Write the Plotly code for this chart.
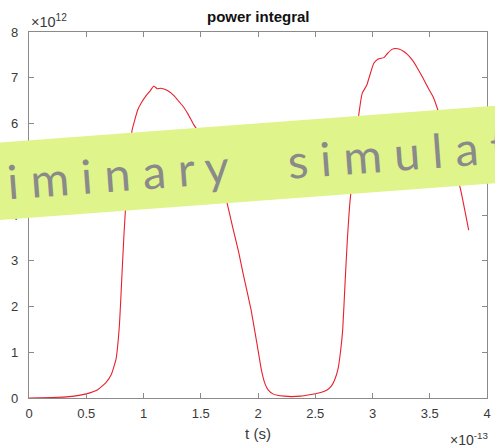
import plotly.graph_objects as go

# time in units of 1e-13 s, power integral in units of 1e12
t = [0, 0.2, 0.35, 0.5, 0.6, 0.67, 0.72, 0.76, 0.79, 0.81, 0.83, 0.86, 0.90, 0.95, 0.98,
     1.02, 1.06, 1.09, 1.12, 1.15, 1.21, 1.27, 1.31, 1.35, 1.39, 1.44, 1.50, 1.58, 1.66,
     1.73, 1.78, 1.83, 1.87, 1.94, 1.99, 2.03, 2.06, 2.09, 2.13, 2.17, 2.23, 2.29, 2.37,
     2.45, 2.53, 2.60, 2.64, 2.67, 2.70, 2.72, 2.74, 2.76, 2.78, 2.80, 2.83, 2.85, 2.88,
     2.91, 2.95, 3.01, 3.05, 3.10, 3.13, 3.17, 3.20, 3.23, 3.27, 3.30, 3.35, 3.39, 3.44,
     3.47, 3.53, 3.57, 3.62, 3.70, 3.77, 3.84]
p = [0, 0.01, 0.03, 0.09, 0.18, 0.33, 0.52, 0.85, 1.6, 2.6, 3.6, 4.8, 5.85, 6.3, 6.45,
     6.6, 6.72, 6.82, 6.76, 6.77, 6.72, 6.6, 6.48, 6.36, 6.2, 5.97, 5.75, 5.35, 4.85,
     4.26, 3.72, 3.2, 2.72, 1.92, 1.2, 0.61, 0.32, 0.17, 0.09, 0.06, 0.04, 0.03, 0.04,
     0.07, 0.11, 0.17, 0.26, 0.4, 0.65, 1.0, 1.5, 2.5, 3.45, 4.2, 5.0, 5.5, 6.19,
     6.66, 6.84, 7.31, 7.41, 7.44, 7.53, 7.62, 7.64, 7.63, 7.58, 7.52, 7.38, 7.22, 7.0,
     6.85, 6.58, 6.3, 5.85, 5.2, 4.55, 3.67]

x_ticks = [0, 0.5, 1, 1.5, 2, 2.5, 3, 3.5, 4]
x_ticktext = ["0", "0.5", "1", "1.5", "2", "2.5", "3", "3.5", "4"]
y_ticks = [0, 1, 2, 3, 4, 5, 6, 7, 8]
y_ticktext = ["0", "1", "2", "3", "4", "5", "6", "7", "8"]

title_text = "power integral"
x_label = "t (s)"
x_exp = "×10<sup>-13</sup>"
y_exp = "×10<sup>12</sup>"
banner_words = ["preliminary", "simulation"]

W, H = 495, 445
L, R, T, B = 29, 4, 32, 47
pw, ph = W - L - R, H - T - B

def px(xp):
    return (xp - L) / pw

def py(yp):
    return (H - B - yp) / ph

axis_col = "#8a8a8a"
label_col = "#3a3a3a"
font_fam = "Liberation Sans, Arial, sans-serif"

fig = go.Figure()
fig.add_trace(go.Scatter(x=t, y=p, mode="lines",
                         line=dict(color="#e8202e", width=1.1, shape="spline", smoothing=0.4),
                         hoverinfo="skip", showlegend=False))

axis_common = dict(showgrid=False, zeroline=False, showline=True, linecolor=axis_col,
                   linewidth=1.3, ticks="inside", ticklen=5, tickcolor=axis_col,
                   tickwidth=1, mirror="ticks",
                   tickfont=dict(family=font_fam, size=13, color=label_col))

fig.update_xaxes(range=[0, 4], tickvals=x_ticks, ticktext=x_ticktext, ticklabelstandoff=3,
                 title=dict(text=x_label, font=dict(family=font_fam, size=15, color=label_col),
                            standoff=8),
                 **axis_common)
fig.update_yaxes(range=[0, 8], tickvals=y_ticks, ticktext=y_ticktext, ticklabelstandoff=7,
                 **axis_common)

# banner (rotated band)
slope = -0.0735
x0, x1 = -12, 507
top0, bot0 = 142.4, 220.0
path = "M {a},{b} L {c},{d} L {e},{f} L {g},{h} Z".format(
    a=px(x0), b=py(top0 + slope * x0),
    c=px(x1), d=py(top0 + slope * x1),
    e=px(x1), f=py(bot0 + slope * x1),
    g=px(x0), h=py(bot0 + slope * x0))
fig.add_shape(type="path", path=path, xref="paper", yref="paper",
              fillcolor="#dff58b", line=dict(width=0), layer="above")

spaced = ("\u00a0" * 5).join("\u00a0".join(w) for w in banner_words)
fig.add_annotation(text=spaced, xref="paper", yref="paper", x=px(246), y=py(164),
                   xanchor="center", yanchor="middle", showarrow=False, textangle=-4.2,
                   font=dict(family="Lato, Open Sans, sans-serif", size=47, color="#8a8a8a"))

fig.add_annotation(text="<b>%s</b>" % title_text, xref="paper", yref="paper", x=0.5, y=1,
                   xanchor="center", yanchor="bottom", yshift=5, showarrow=False,
                   font=dict(family=font_fam, size=15, color="#111111"))
fig.add_annotation(text=y_exp, xref="paper", yref="paper", x=0, y=1,
                   xanchor="left", yanchor="bottom", yshift=0, showarrow=False,
                   font=dict(family=font_fam, size=14.5, color=label_col))
fig.add_annotation(text=x_exp, xref="paper", yref="paper", x=1, y=0,
                   xanchor="right", yanchor="top", yshift=-30, xshift=3, showarrow=False,
                   font=dict(family=font_fam, size=14, color=label_col))

fig.update_layout(width=W, height=H, margin=dict(l=L, r=R, t=T, b=B),
                  paper_bgcolor="white", plot_bgcolor="white", showlegend=False)

fig.write_html("out.html")
